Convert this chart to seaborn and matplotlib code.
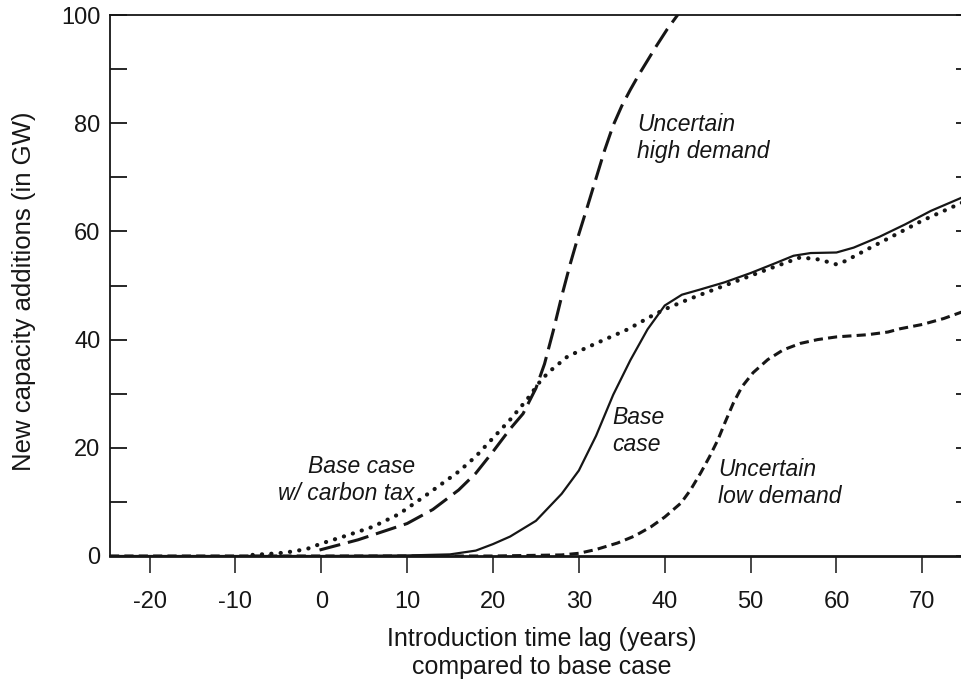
import numpy as np
import pandas as pd
import matplotlib
matplotlib.use("Agg")
import matplotlib.pyplot as plt
import seaborn as sns

# ---------------- data ----------------
# base case (solid)
base_x = [-24.6, 0, 10, 15, 18, 20, 22, 25, 28, 30, 32, 34, 36, 38, 40, 42, 44, 47, 50, 53,
          55, 57, 60, 62, 65, 68, 71, 76]
base_y = [0, 0, 0.1, 0.3, 1.0, 2.2, 3.6, 6.5, 11.5, 15.8, 22.2, 29.8, 36.2, 41.9, 46.3, 48.3,
          49.2, 50.6, 52.3, 54.2, 55.5, 56.0, 56.1, 57.0, 59.0, 61.3, 63.8, 67.2]

# base case with carbon tax (dotted)
tax_x = [-8, -5, -3, -1.5, 0, 3, 6, 9, 12, 14, 16, 18, 20, 22, 24, 25.5, 26.5, 28.7, 32,
         35.7, 38.4, 40, 42.7, 45, 48, 52, 55.8, 58, 60, 61, 63.6, 67, 70, 76]
tax_y = [0.2, 0.5, 0.9, 1.4, 2.3, 3.8, 5.4, 7.7, 11.0, 13.3, 15.6, 18.4, 21.8, 25.2, 29.0,
         32.3, 34.0, 36.9, 39.3, 41.9, 44.3, 45.6, 47.4, 48.8, 50.6, 53.0, 55.2, 54.8, 53.9,
         54.5, 56.7, 59.5, 62.0, 66.3]

# uncertain high demand (long dashes)
high_x = [-0.2, 4.3, 10, 13, 16, 18, 20, 22, 23.5, 25, 26, 27, 28, 29, 30, 31, 32, 33, 34,
          35, 36, 37, 38, 39, 40.3, 41.5, 42.5]
high_y = [1.1, 3.0, 6.0, 8.6, 12.2, 15.3, 19.3, 23.5, 26.3, 31.0, 35.5, 41.5, 48.0, 54.0,
          59.5, 64.6, 69.8, 75.0, 79.6, 83.2, 86.2, 89.0, 91.6, 94.2, 97.4, 100.0, 102.0]

# uncertain low demand (short dashes)
low_x = [-24.6, 20, 28, 30, 32, 34.5, 36.5, 38.4, 40, 41.9, 43, 44.2, 45.2, 46.2, 47, 48,
         49, 50.3, 52, 53.8, 55.8, 57.8, 60, 63.6, 66, 67.4, 70, 72.5, 76]
low_y = [0, 0, 0.2, 0.5, 1.2, 2.4, 3.7, 5.4, 7.2, 9.8, 12.2, 15.4, 18.3, 21.5, 24.6, 28.3,
         31.3, 33.9, 36.3, 38.1, 39.3, 40.0, 40.5, 40.9, 41.4, 42.0, 42.8, 43.9, 45.9]

x_ticks = [-20, -10, 0, 10, 20, 30, 40, 50, 60, 70]
y_major = [0, 20, 40, 60, 80, 100]
y_minor = [10, 30, 50, 70, 90]

# ---------------- style ----------------
sns.set_style("ticks")
plt.rcParams["font.family"] = ["Liberation Sans", "DejaVu Sans"]
plt.rcParams["axes.unicode_minus"] = False
ink = "#161616"

fig = plt.figure(figsize=(9.62, 6.85), dpi=100)
ax = fig.add_axes([110 / 962, 129 / 685, 863 / 962, 541 / 685])

sns.lineplot(x=base_x, y=base_y, ax=ax, color=ink, linewidth=1.6, sort=False)
sns.lineplot(x=tax_x, y=tax_y, ax=ax, color=ink, linewidth=3.0, sort=False,
             linestyle=(0, (0.05, 2.2)), dash_capstyle="round")
sns.lineplot(x=high_x, y=high_y, ax=ax, color=ink, linewidth=2.2, sort=False,
             linestyle=(0, (7.0, 2.6)))
sns.lineplot(x=low_x, y=low_y, ax=ax, color=ink, linewidth=2.2, sort=False,
             linestyle=(0, (3.0, 1.7)))

ax.set_xlim(-24.6, 75.9)
ax.set_ylim(0, 100)
ax.set_xticks(x_ticks)
ax.set_yticks(y_major)
ax.set_yticks(y_minor, minor=True)

ax.tick_params(axis="x", direction="out", length=12, width=1.1, colors=ink,
               labelsize=17, pad=13, top=False)
ax.tick_params(axis="y", which="both", direction="in", length=12, width=1.3,
               colors=ink, labelsize=17, pad=7, left=True, right=True)

for side in ["left", "right", "top"]:
    ax.spines[side].set_visible(True)
    ax.spines[side].set_color(ink)
    ax.spines[side].set_linewidth(1.3)
ax.spines["bottom"].set_color(ink)
ax.spines["bottom"].set_linewidth(2.0)

ax.set_xlabel("Introduction time lag (years)\ncompared to base case",
              fontsize=18, color=ink, labelpad=10, linespacing=1.22)
ax.set_ylabel("New capacity additions (in GW)", fontsize=18.5, color=ink)
ax.yaxis.set_label_coords(-0.086, 0.49)

note = dict(fontsize=16.5, style="italic", color=ink, va="top")
ax.text(36.8, 81.8, "Uncertain\nhigh demand", ha="left", **note)
ax.text(10.9, 18.6, "Base case\nw/ carbon tax", ha="right", multialignment="right", **note)
ax.text(33.9, 27.7, "Base\ncase", ha="left", **note)
ax.text(46.2, 18.1, "Uncertain\nlow demand", ha="left", **note)

fig.savefig("out.png", dpi=100)
